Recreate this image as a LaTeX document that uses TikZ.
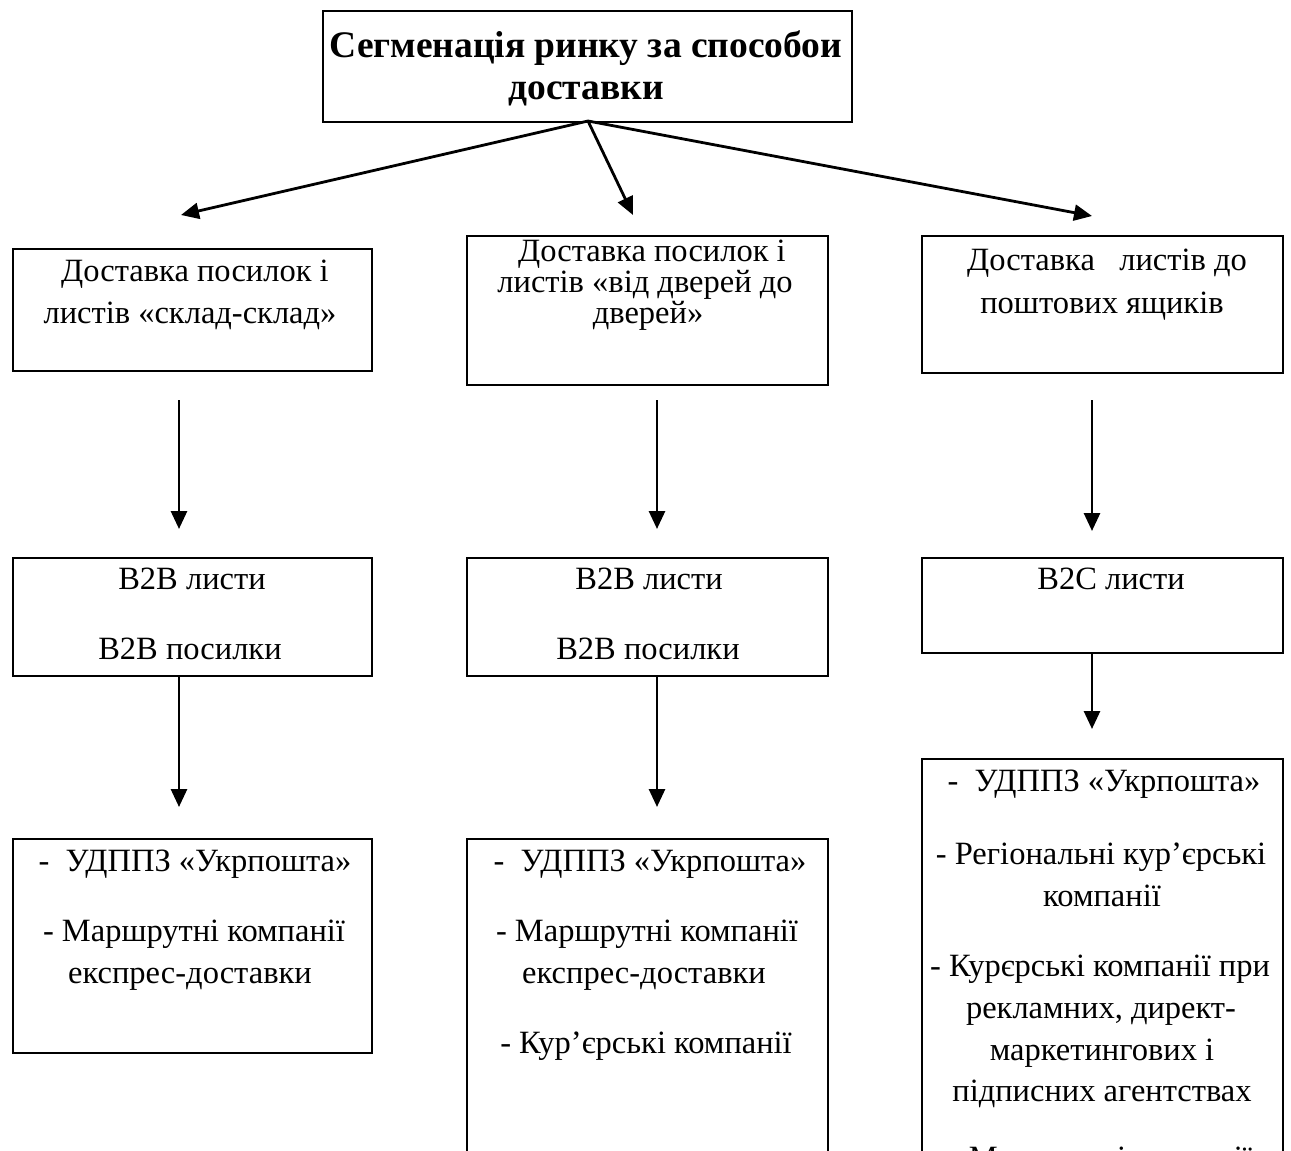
\documentclass[tikz,border=0pt]{standalone}
\usepackage{fontspec}
\setmainfont{Liberation Serif}
\usetikzlibrary{arrows.meta}
\begin{document}
\begin{tikzpicture}[x=1pt,y=-1pt,
  box/.style={draw,line width=2.2pt,inner sep=0pt,anchor=north west},
  txt/.style={anchor=base,inner sep=0pt,font=\fontsize{32.5}{36}\selectfont},
  ttl/.style={anchor=base,inner sep=0pt,font=\fontsize{37.5}{42}\selectfont\bfseries},
  arr/.style={line width=2.8pt,-{Triangle[length=18pt,width=16pt]}}]
\useasboundingbox (0,0) rectangle (1291,1151);
\clip (0,0) rectangle (1291,1151);

% title
\node[box,minimum width=529,minimum height=111] (title) at (322,10) {};
\node[ttl] (t1) at (586,57) {Сегменація ринку за способои};
\node[ttl] (t2) at (586,99) {доставки};

% second row: delivery modes
\node[box,minimum width=359,minimum height=122] (a1) at (12,248) {};
\node[txt] (a1l1) at (195,281) {Доставка посилок і};
\node[txt] (a1l2) at (190,323) {листів «склад-склад»};

\node[box,minimum width=361,minimum height=149] (b1) at (466,235) {};
\node[txt] (b1l1) at (652,261) {Доставка посилок і};
\node[txt] (b1l2) at (645,292) {листів «від дверей до};
\node[txt] (b1l3) at (648,323) {дверей»};

\node[box,minimum width=361,minimum height=137] (c1) at (921,235) {};
\node[txt] (c1l1) at (1107,270) {Доставка \ \ листів до};
\node[txt] (c1l2) at (1102,313) {поштових ящиків};

% third row: segments
\node[box,minimum width=359,minimum height=118] (a2) at (12,557) {};
\node[txt] (a2l1) at (192,589) {B2B листи};
\node[txt] (a2l2) at (190,659) {B2B посилки};

\node[box,minimum width=361,minimum height=118] (b2) at (466,557) {};
\node[txt] (b2l1) at (649,589) {B2B листи};
\node[txt] (b2l2) at (648,659) {B2B посилки};

\node[box,minimum width=361,minimum height=95] (c2) at (921,557) {};
\node[txt] (c2l1) at (1111,589) {B2C листи};

% fourth row: operators
\node[box,minimum width=359,minimum height=214] (a3) at (12,838) {};
\node[txt] (a3l1) at (195,871) {- \ УДППЗ «Укрпошта»};
\node[txt] (a3l2) at (194,941) {- Маршрутні компанії};
\node[txt] (a3l3) at (190,983) {експрес-доставки};

\node[box,minimum width=361,minimum height=400] (b3) at (466,838) {};
\node[txt] (b3l1) at (650,871) {- \ УДППЗ «Укрпошта»};
\node[txt] (b3l2) at (647,941) {- Маршрутні компанії};
\node[txt] (b3l3) at (644,983) {експрес-доставки};
\node[txt] (b3l4) at (646,1053) {- Кур’єрські компанії};

\node[box,minimum width=361,minimum height=480] (c3) at (921,758) {};
\node[txt] (c3l1) at (1104,791) {- \ УДППЗ «Укрпошта»};
\node[txt] (c3l2) at (1101,864) {- Регіональні кур’єрські};
\node[txt] (c3l3) at (1102,906) {компанії};
\node[txt] (c3l4) at (1100,976) {- Курєрські компанії при};
\node[txt] (c3l5) at (1101,1018) {рекламних, директ-};
\node[txt] (c3l6) at (1102,1060) {маркетингових і};
\node[txt] (c3l7) at (1102,1101) {підписних агентствах};
\node[txt] (c3l8) at (1101,1168) {- Маршрутні компанії};

% connector end points
\coordinate (root) at (588,121);
\coordinate (ea) at (181,215);
\coordinate (eb) at (633,215);
\coordinate (ec) at (1092,216);
\coordinate (sa1) at (179,400);
\coordinate (ea1) at (179,529);
\coordinate (sb1) at (657,400);
\coordinate (eb1) at (657,529);
\coordinate (sc1) at (1092,400);
\coordinate (ec1) at (1092,531);
\coordinate (sa2) at (179,675);
\coordinate (ea2) at (179,807);
\coordinate (sb2) at (657,675);
\coordinate (eb2) at (657,807);
\coordinate (sc2) at (1092,652);
\coordinate (ec2) at (1092,729);

\draw[arr] (root) -- (ea);
\draw[arr] (root) -- (eb);
\draw[arr] (root) -- (ec);
\draw[arr] (sa1) -- (ea1);
\draw[arr] (sb1) -- (eb1);
\draw[arr] (sc1) -- (ec1);
\draw[arr] (sa2) -- (ea2);
\draw[arr] (sb2) -- (eb2);
\draw[arr] (sc2) -- (ec2);
\end{tikzpicture}
\end{document}
